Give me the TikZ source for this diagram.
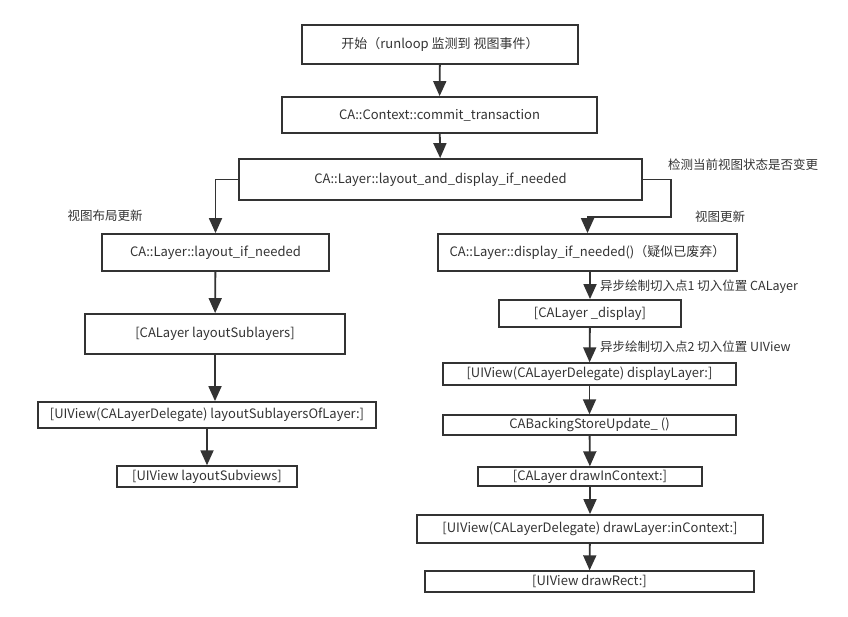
\documentclass[tikz,border=0pt]{standalone}
\usepackage{fontspec}
\setmainfont{Noto Sans CJK SC}
\usetikzlibrary{arrows.meta}
\definecolor{ink}{HTML}{333333}
\tikzset{
  box/.style={draw=ink, line width=1.8pt, rectangle, inner sep=0pt, text=ink, font=\fontsize{13}{15}\selectfont},
  thinbox/.style={box, line width=1.4pt},
  conn/.style={draw=ink, line width=1.8pt, -{Triangle[width=13pt,length=15pt]}},
  lbl/.style={text=ink, inner sep=0pt, font=\fontsize{12.5}{14}\selectfont},
}
\begin{document}
\begin{tikzpicture}[x=1pt,y=-1pt]
\useasboundingbox (0,0) rectangle (848,616);
\node[box, minimum width=276pt, minimum height=39pt] (b1) at (440,44.5) {开始（runloop 监测到 视图事件）};
\node[box, minimum width=315pt, minimum height=36pt] (b2) at (439.5,115) {CA::Context::commit\_transaction};
\node[box, minimum width=403pt, minimum height=41pt] (b3) at (440.5,179.5) {CA::Layer::layout\_and\_display\_if\_needed};
\node[box, minimum width=227pt, minimum height=37pt] (b4) at (215.5,252.5) {CA::Layer::layout\_if\_needed};
\node[box, minimum width=260pt, minimum height=40pt] (b5) at (215,334) {[CALayer layoutSublayers]};
\node[box, minimum width=338pt, minimum height=26pt] (b6) at (207,415) {[UIView(CALayerDelegate) layoutSublayersOfLayer:]};
\node[thinbox, minimum width=180pt, minimum height=21pt] (b7) at (207,476.5) {[UIView layoutSubviews]};
\node[box, minimum width=299pt, minimum height=37pt] (c1) at (587.5,252.5) {CA::Layer::display\_if\_needed()（疑似已废弃）};
\node[box, minimum width=182pt, minimum height=27pt] (c2) at (590,313.5) {[CALayer \_display]};
\node[thinbox, minimum width=293pt, minimum height=22pt] (c3) at (589.5,374) {[UIView(CALayerDelegate) displayLayer:]};
\node[thinbox, minimum width=293pt, minimum height=20pt] (c4) at (589.5,425) {CABackingStoreUpdate\_ ()};
\node[thinbox, minimum width=224pt, minimum height=19pt] (c5) at (590,476.5) {[CALayer drawInContext:]};
\node[box, minimum width=346pt, minimum height=28pt] (c6) at (590,529) {[UIView(CALayerDelegate) drawLayer:inContext:]};
\node[thinbox, minimum width=329pt, minimum height=21pt] (c7) at (589.5,581.5) {[UIView drawRect:]};
\node[lbl] (l1) at (743,165) {检测当前视图状态是否变更};
\node[lbl] (l2) at (720,217) {视图更新};
\node[lbl] (l3) at (105,216) {视图布局更新};
\node[lbl, anchor=west] (l4) at (600,287) {异步绘制切入点1 切入位置 CALayer};
\node[lbl, anchor=west] (l5) at (600,347) {异步绘制切入点2 切入位置 UIView};
\coordinate (r1) at (671,217);
\draw[conn] (b1) -- (b2);
\draw[conn] (b2) -- (b3);
\draw[conn] (b3.west) -| (b4.north);
\draw[conn] (b3.east) -| (r1) -| (c1.north);
\draw[conn] (b4) -- (b5);
\draw[conn] (b5.south) -- (b5.south |- b6.north);
\draw[conn] (b6) -- (b7);
\draw[conn] (c1.south -| c2.north) -- (c2.north);
\draw[conn] (c2) -- (c3);
\draw[conn] (c3) -- (c4);
\draw[conn] (c4) -- (c5);
\draw[conn] (c5) -- (c6);
\draw[conn] (c6) -- (c7);
\end{tikzpicture}
\end{document}
